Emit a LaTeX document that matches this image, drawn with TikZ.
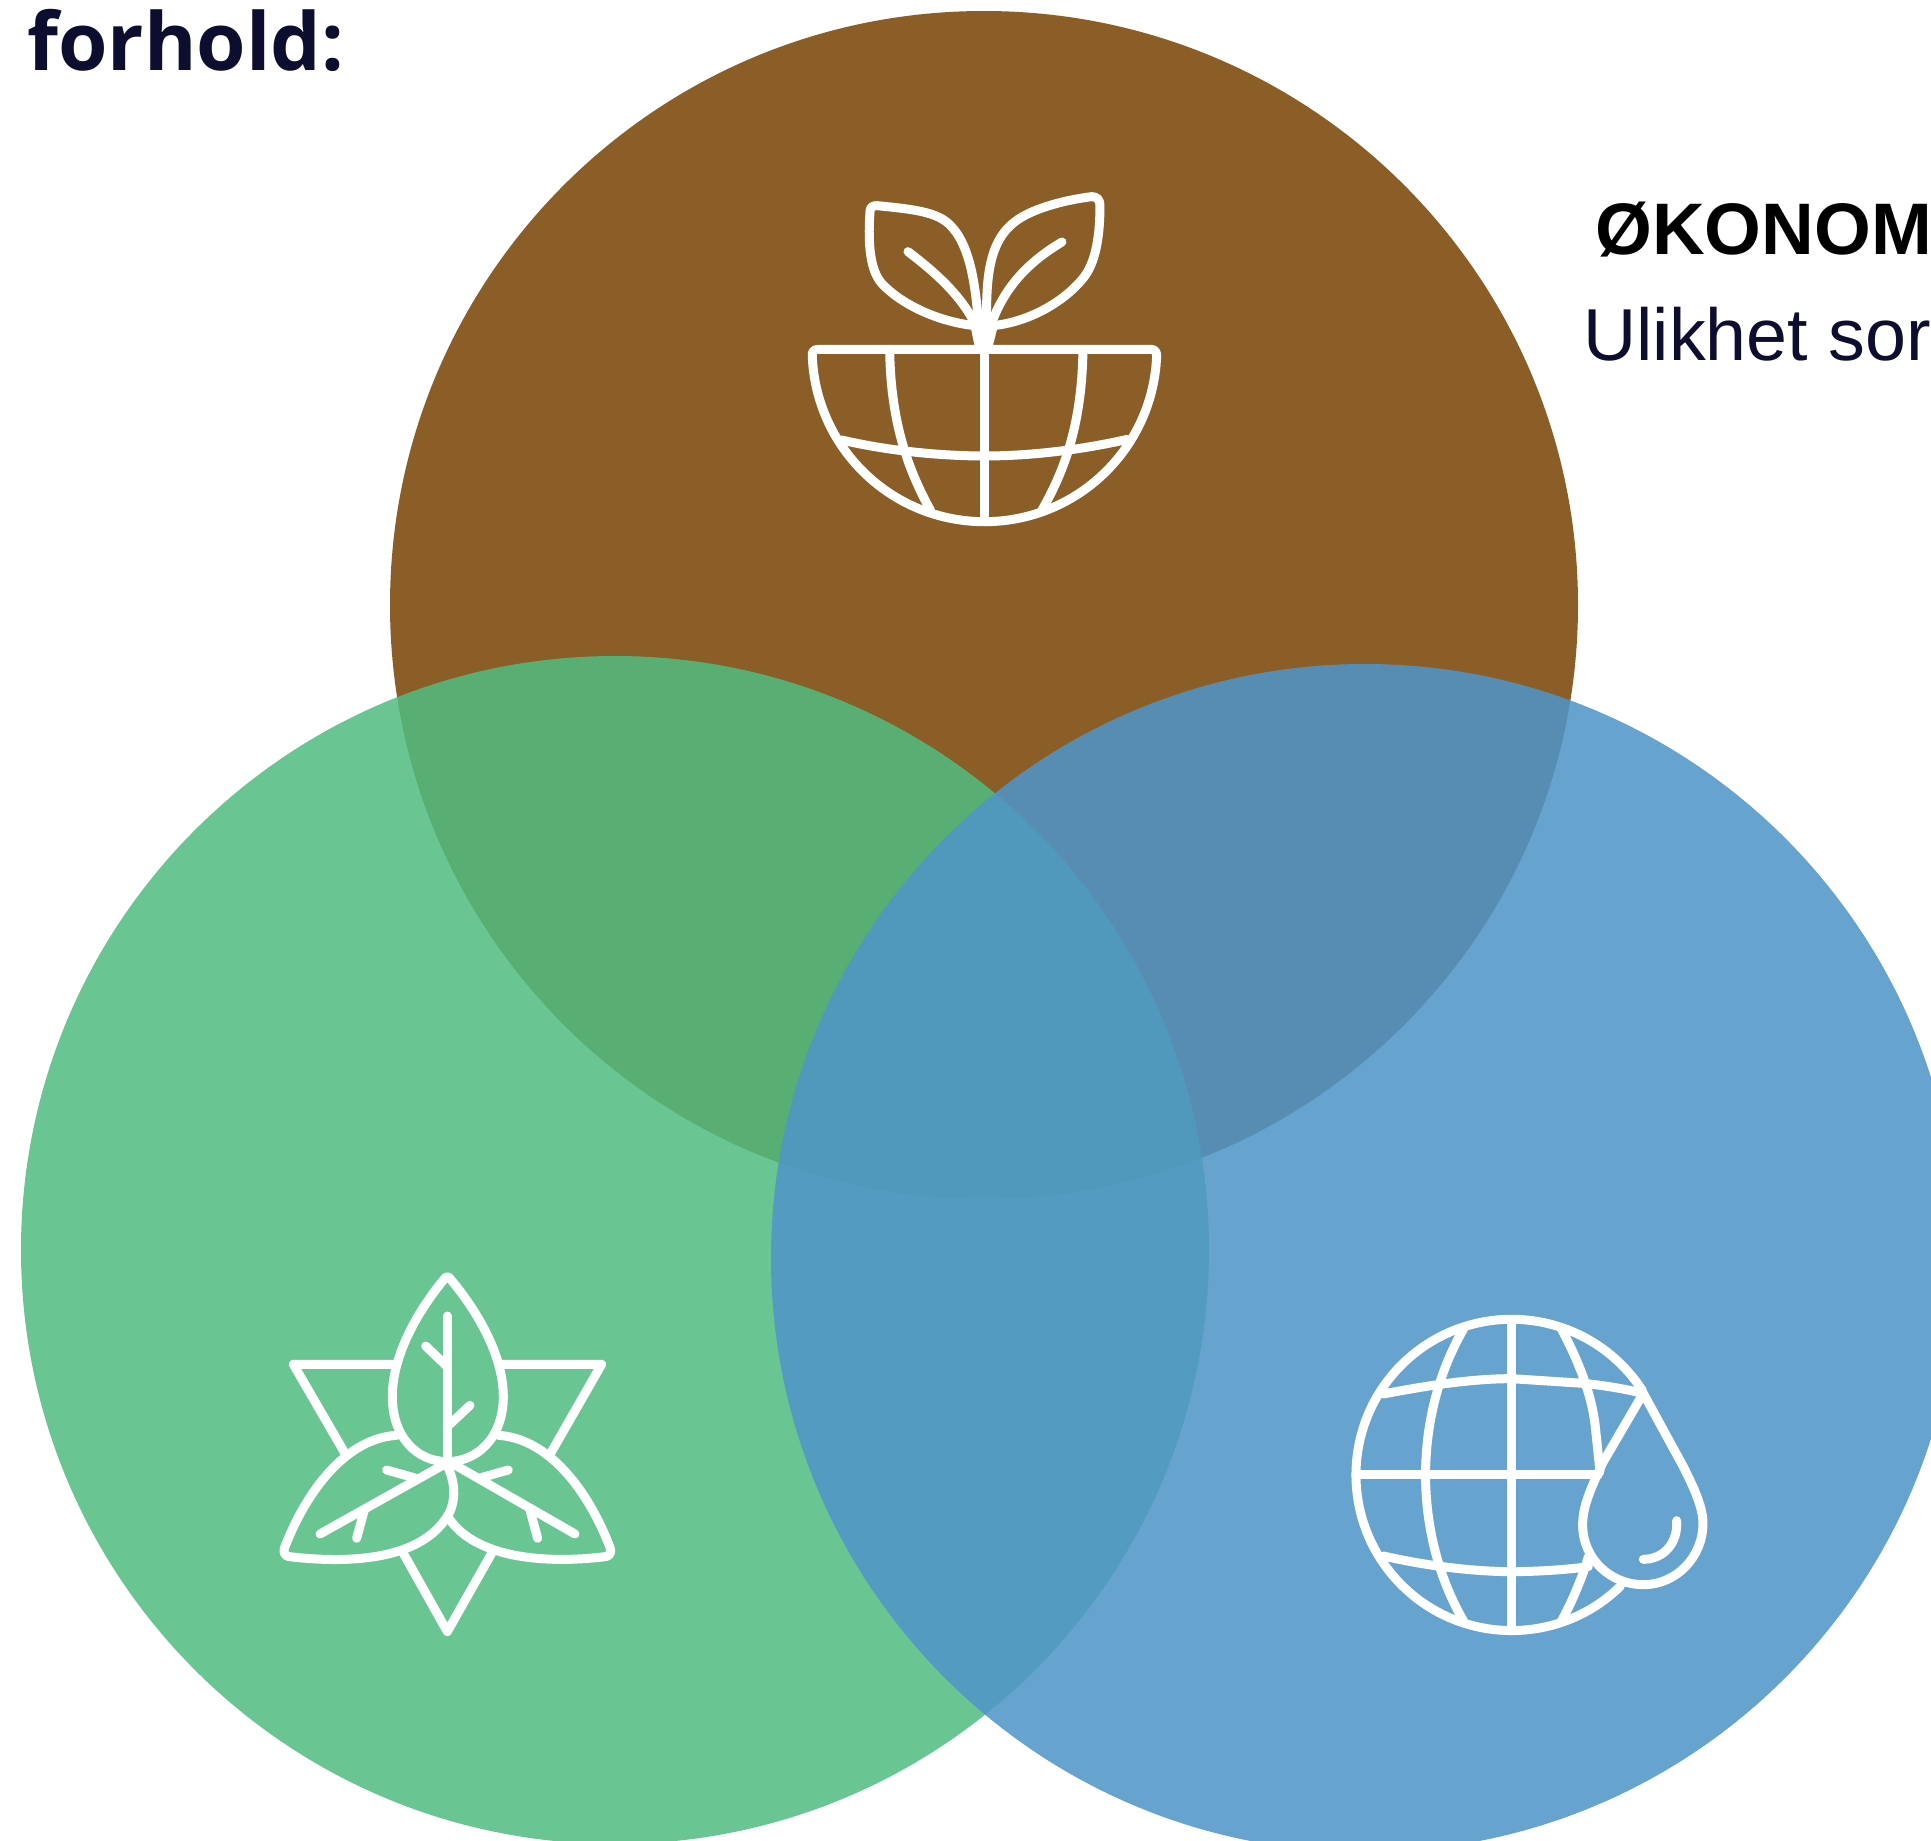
\documentclass[tikz,border=0pt]{standalone}
\usepackage{fontspec}
\usetikzlibrary{positioning}
\setmainfont{Liberation Sans}
\newfontfamily\headfont{Open Sans}
\definecolor{inkblue}{rgb}{0.05,0.05,0.19}
\definecolor{soilbrown}{HTML}{8B5E27}
\definecolor{leafgreen}{HTML}{50BC80}
\definecolor{waterblue}{HTML}{5095C8}
\tikzset{
  iconline/.style={draw=white,line width=9pt,line cap=round,line join=round},
  iconscope/.style={x=.3333pt,y=-.3333pt},
  plaintext/.style={inner sep=0pt,anchor=base west}
}
\begin{document}
\begin{tikzpicture}[x=1pt,y=-1pt]
\useasboundingbox (0,0) rectangle (1931,1841);
\clip (0,0) rectangle (1931,1841);
\fill[soilbrown] (984,605) circle[radius=594];
\fill[leafgreen,opacity=.86] (615,1250) circle[radius=594];
\fill[waterblue,opacity=.87] (1365,1258) circle[radius=594];

\node[plaintext,text=inkblue,font=\headfont\bfseries\fontsize{80}{90}\selectfont] (title) at (27,71) {forhold:};
\node[plaintext,text=black,font=\bfseries\fontsize{73}{80}\selectfont] (okonomi) at (1595,254) {ØKONOM};
\node[plaintext,text=inkblue,font=\fontsize{73.6}{80}\selectfont] (ulikhet) at (1583,360) {Ulikhet sor};

% plant in a half globe
\begin{scope}[shift={(780,170)},iconscope]
\draw[iconline] (115,538) -- (1113,538) .. controls (1124,538) and (1131,546) .. (1130,558) arc[start angle=2.2,end angle=177.8,radius=517] .. controls (95,546) and (102,538) .. (115,538);
\draw[iconline] (613,538) -- (613,1055);
\draw[iconline] (329,538) .. controls (332,760) and (385,900) .. (452,1022);
\draw[iconline] (909,538) .. controls (906,760) and (855,900) .. (785,1022);
\draw[iconline] (185,810) .. controls (320,842) and (480,858) .. (613,858) .. controls (760,858) and (910,838) .. (1043,808);
\draw[iconline] (600,525) .. controls (590,360) and (575,230) .. (510,165) .. controls (470,125) and (400,118) .. (292,107) .. controls (278,106) and (270,112) .. (270,125) .. controls (265,200) and (265,295) .. (305,340) .. controls (360,400) and (470,455) .. (585,467) -- (598,530);
\draw[iconline] (384,245) .. controls (470,310) and (560,390) .. (597,490);
\draw[iconline] (622,525) .. controls (615,340) and (620,220) .. (705,155) .. controls (750,120) and (840,92) .. (935,80) .. controls (950,79) and (960,90) .. (960,105) .. controls (960,190) and (950,280) .. (905,330) .. controls (850,395) and (750,455) .. (640,467) -- (624,530);
\draw[iconline] (846,216) .. controls (730,285) and (660,370) .. (625,490);
\end{scope}

% three leaves on a star
\begin{scope}[shift={(260,1250)},iconscope]
\draw[iconline] (400,343) -- (100,343) -- (255,610);
\draw[iconline] (725,343) -- (1025,343) -- (872,610);
\draw[iconline] (430,910) -- (562,1145) -- (695,910);
\draw[iconline] (552,88) .. controls (480,175) and (397,310) .. (397,440) .. controls (397,560) and (470,635) .. (562,635) .. controls (655,635) and (730,560) .. (730,440) .. controls (730,310) and (645,175) .. (572,88) .. controls (566,78) and (558,78) .. (552,88);
\draw[iconline] (562,198) -- (562,635);
\draw[iconline] (497,288) -- (562,350);
\draw[iconline] (630,466) -- (562,530);
\draw[iconline] (410,556) .. controls (260,565) and (140,720) .. (73,895) .. controls (70,910) and (75,918) .. (88,920) .. controls (300,945) and (500,920) .. (570,785) .. controls (590,735) and (582,690) .. (560,642);
\draw[iconline] (180,852) -- (555,642);
\draw[iconline] (380,660) -- (465,684);
\draw[iconline] (290,865) -- (313,780);
\draw[iconline] (715,556) .. controls (865,565) and (985,720) .. (1051,895) .. controls (1054,910) and (1049,918) .. (1036,920) .. controls (830,945) and (640,915) .. (567,805);
\draw[iconline] (945,852) -- (585,645);
\draw[iconline] (745,660) -- (660,684);
\draw[iconline] (833,865) -- (810,780);
\end{scope}

% globe with a water drop
\begin{scope}[shift={(1330,1290)},iconscope]
\draw[iconline] (871,889) arc[start angle=45.7,end angle=327.3,radius=467];
\draw[iconline] (545,88) -- (545,1022);
\draw[iconline] (78,555) -- (805,555);
\draw[iconline] (400,118) .. controls (249,380) and (249,730) .. (400,992);
\draw[iconline] (695,118) .. controls (760,240) and (790,340) .. (797,420) -- (810,545);
\draw[iconline] (695,992) .. controls (730,930) and (765,840) .. (775,800);
\draw[iconline] (160,312) .. controls (300,285) and (430,266) .. (545,266) -- (760,280) .. controls (820,286) and (880,296) .. (925,307);
\draw[iconline] (160,798) .. controls (300,830) and (440,845) .. (545,845) .. controls (630,845) and (720,838) .. (775,830);
\draw[iconline] (940,310) -- (1060,530) .. controls (1090,590) and (1119,650) .. (1119,700) .. controls (1119,800) and (1040,884) .. (940,884) .. controls (840,884) and (758,805) .. (758,705) .. controls (758,650) and (780,600) .. (820,515) -- (940,310);
\draw[iconline] (1040,692) .. controls (1045,760) and (1000,808) .. (940,808);
\end{scope}
\end{tikzpicture}
\end{document}
